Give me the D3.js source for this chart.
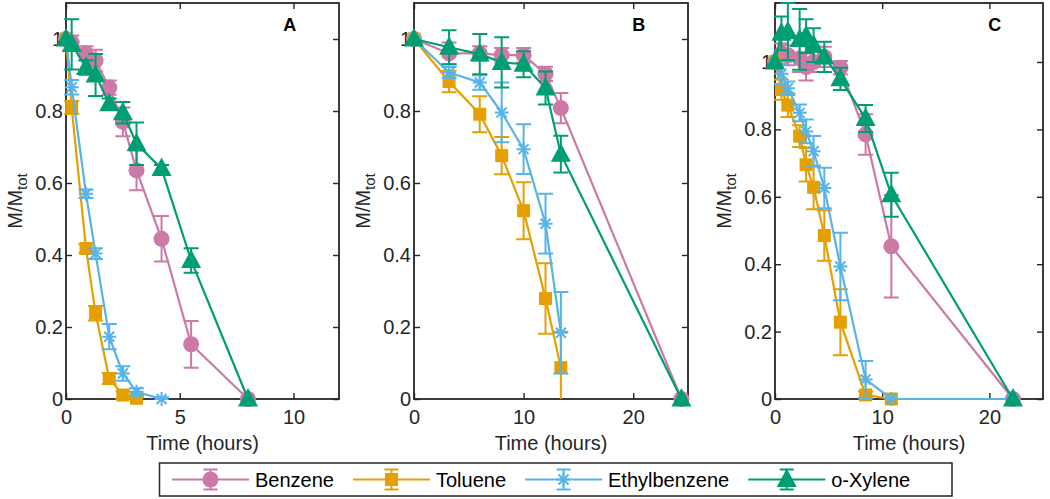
<!DOCTYPE html>
<html>
<head>
<meta charset="utf-8">
<script src="https://cdn.jsdelivr.net/npm/d3@7"></script>
<style>
  body { margin: 0; background: #fff; }
  svg { display: block; font-family: "Liberation Sans", Arial, sans-serif; }
</style>
</head>
<body>
<div id="chart"></div>
<script>
  // series
  const seriesNames = ["Benzene", "Toluene", "Ethylbenzene", "o-Xylene"];
  const seriesColors = ["#CC79A7", "#E69F00", "#56B4E9", "#009E73"];
  const seriesMarkers = ["circle", "square", "asterisk", "triangle"];

  const panelLabels = ["A", "B", "C"];
  const xTicksA = [0, 5, 10];
  const xTicksB = [0, 10, 20];
  const xTicksC = [0, 10, 20];
  const yTicks = [0, 0.2, 0.4, 0.6, 0.8, 1];

  // panel A (hours, M/Mtot)
  const timeA = [0, 0.25, 0.88, 1.3, 1.9, 2.5, 3.1, 4.2, 5.5, 8];
  const benzeneA = [1.0, 0.99, 0.96, 0.94, 0.865, 0.77, 0.635, 0.445, 0.152, 0];
  const benzeneErrA = [0, 0.02, 0.02, 0.03, 0.02, 0.04, 0.055, 0.063, 0.065, 0];
  const tolueneA = [1.0, 0.81, 0.418, 0.238, 0.057, 0.011, 0.002, null, null, null];
  const tolueneErrA = [0, 0.018, 0.012, 0.02, 0.015, 0.01, 0.005, 0, 0, 0];
  const ethylA = [1.0, 0.866, 0.57, 0.404, 0.173, 0.071, 0.02, 0, null, null];
  const ethylErrA = [0, 0.02, 0.012, 0.015, 0.035, 0.02, 0.01, 0.005, 0, 0];
  const xyleneA = [1.0, 0.985, 0.921, 0.9, 0.82, 0.795, 0.709, 0.64, 0.385, 0];
  const xyleneErrA = [0, 0.07, 0.02, 0.058, 0.015, 0.03, 0.059, 0.01, 0.034, 0];

  // panel B
  const timeB = [0, 3.2, 6, 8, 10, 12, 13.4, 24.4];
  const benzeneB = [1.0, 0.96, 0.96, 0.955, 0.955, 0.903, 0.808, 0];
  const benzeneErrB = [0, 0.03, 0.02, 0.02, 0.02, 0.02, 0.042, 0];
  const tolueneB = [1.0, 0.882, 0.791, 0.676, 0.523, 0.279, 0.087, null];
  const tolueneErrB = [0, 0.03, 0.05, 0.052, 0.079, 0.098, 0.1, 0];
  const ethylB = [1.0, 0.907, 0.879, 0.796, 0.694, 0.487, 0.184, null];
  const ethylErrB = [0, 0.015, 0.02, 0.083, 0.069, 0.083, 0.113, 0];
  const xyleneB = [1.0, 0.977, 0.958, 0.935, 0.93, 0.864, 0.68, 0];
  const xyleneErrB = [0, 0.047, 0.056, 0.07, 0.036, 0.046, 0.051, 0];

  // panel C
  const timeC = [0, 0.6, 1.2, 2.3, 2.9, 3.6, 4.6, 6.1, 8.45, 10.85, 22.2];
  const benzeneC = [1.0, 1.025, 1.02, 1.01, 0.985, 1.0, 1.015, 0.983, 0.785, 0.453, 0];
  const benzeneErrC = [0, 0.03, 0.03, 0.04, 0.04, 0.03, 0.03, 0.02, 0.06, 0.152, 0];
  const tolueneC = [1.0, 0.918, 0.872, 0.78, 0.695, 0.628, 0.485, 0.228, 0.012, 0, null];
  const tolueneErrC = [0, 0.03, 0.035, 0.032, 0.05, 0.065, 0.075, 0.098, 0.01, 0, 0];
  const ethylC = [1.0, 0.965, 0.922, 0.849, 0.794, 0.735, 0.626, 0.393, 0.058, 0, 0];
  const ethylErrC = [0, 0.03, 0.02, 0.025, 0.035, 0.045, 0.06, 0.1, 0.055, 0, 0];
  const xyleneC = [1.0, 1.085, 1.09, 1.067, 1.077, 1.05, 1.015, 0.95, 0.832, 0.606, 0];
  const xyleneErrC = [0, 0.05, 0.085, 0.09, 0.05, 0.05, 0.045, 0.033, 0.04, 0.065, 0];

  const W = 1050, H = 499;
  const axTop = 3, axBottom = 399;
  const ink = "#262626";

  const panels = [
    {label: panelLabels[0], time: timeA, xmax: 12, ymax: 1.1, left: 66, right: 339, xticks: xTicksA,
     values: [benzeneA, tolueneA, ethylA, xyleneA], errs: [benzeneErrA, tolueneErrA, ethylErrA, xyleneErrA]},
    {label: panelLabels[1], time: timeB, xmax: 25, ymax: 1.1, left: 414, right: 688, xticks: xTicksB,
     values: [benzeneB, tolueneB, ethylB, xyleneB], errs: [benzeneErrB, tolueneErrB, ethylErrB, xyleneErrB]},
    {label: panelLabels[2], time: timeC, xmax: 25, ymax: 1.175, left: 775, right: 1043, xticks: xTicksC,
     values: [benzeneC, tolueneC, ethylC, xyleneC], errs: [benzeneErrC, tolueneErrC, ethylErrC, xyleneErrC]}
  ];

  const svg = d3.select("#chart").append("svg")
    .attr("width", W)
    .attr("height", H);

  function markerPath(shape) {
    if (shape === "square") return "M-6.5,-6.5h13v13h-13z";
    if (shape === "triangle") return "M0,-11L10,7.5H-10Z";
    if (shape === "asterisk") return "M-7,0H7M0,-7V7M-5,-5L5,5M-5,5L5,-5";
    return null;
  }

  function drawMarker(g, shape, color, cx, cy) {
    if (shape === "circle") {
      g.append("circle")
        .attr("cx", cx).attr("cy", cy).attr("r", 8)
        .attr("fill", color);
    } else if (shape === "asterisk") {
      g.append("path")
        .attr("transform", "translate(" + cx + "," + cy + ")")
        .attr("d", markerPath(shape))
        .attr("fill", "none")
        .attr("stroke", color)
        .attr("stroke-width", 2);
    } else {
      g.append("path")
        .attr("transform", "translate(" + cx + "," + cy + ")")
        .attr("d", markerPath(shape))
        .attr("fill", color);
    }
  }

  function drawPanel(p) {
    const x = d3.scaleLinear().domain([0, p.xmax]).range([p.left, p.right]);
    const y = d3.scaleLinear().domain([0, p.ymax]).range([axBottom, axTop]);
    const g = svg.append("g");

    // axes, ticks pointing inward on all four sides
    g.append("g")
      .attr("transform", "translate(0," + axBottom + ")")
      .call(d3.axisBottom(x).tickValues(p.xticks).tickSize(-6).tickSizeOuter(0).tickPadding(11));
    g.append("g")
      .attr("transform", "translate(0," + axTop + ")")
      .call(d3.axisTop(x).tickValues(p.xticks).tickSize(-6).tickSizeOuter(0).tickFormat(""));
    g.append("g")
      .attr("transform", "translate(" + p.left + ",0)")
      .call(d3.axisLeft(y).tickValues(yTicks).tickSize(-6).tickSizeOuter(0).tickPadding(3)
        .tickFormat(d3.format("~g")));
    g.append("g")
      .attr("transform", "translate(" + p.right + ",0)")
      .call(d3.axisRight(y).tickValues(yTicks).tickSize(-6).tickSizeOuter(0).tickFormat(""));

    g.selectAll(".domain").remove();
    g.selectAll(".tick line").attr("stroke", ink).attr("stroke-width", 1.4);
    g.selectAll(".tick text")
      .attr("fill", ink)
      .style("font-size", "20px")
      .style("font-family", '"Liberation Sans", Arial, sans-serif');

    g.append("rect")
      .attr("x", p.left).attr("y", axTop)
      .attr("width", p.right - p.left).attr("height", axBottom - axTop)
      .attr("fill", "none")
      .attr("stroke", ink)
      .attr("stroke-width", 1.8);

    // labels
    g.append("text")
      .attr("x", (p.left + p.right) / 2)
      .attr("y", 450)
      .attr("text-anchor", "middle")
      .attr("fill", ink)
      .style("font-size", "20px")
      .text("Time (hours)");

    const yl = g.append("text")
      .attr("transform", "translate(" + (p.left - 44) + "," + ((axTop + axBottom) / 2) + ") rotate(-90)")
      .attr("text-anchor", "middle")
      .attr("fill", ink)
      .style("font-size", "20px");
    yl.append("tspan").text("M/M");
    yl.append("tspan").attr("dy", 5).style("font-size", "15px").text("tot");

    g.append("text")
      .attr("x", p.left + (p.right - p.left) * 0.82)
      .attr("y", 31)
      .attr("text-anchor", "middle")
      .attr("fill", "#000")
      .style("font-size", "18px")
      .style("font-weight", "bold")
      .text(p.label);

    // data: later series on top
    const line = d3.line()
      .x(function (d) { return x(d.t); })
      .y(function (d) { return y(d.v); });

    p.values.forEach(function (vals, si) {
      const color = seriesColors[si];
      const pts = [];
      vals.forEach(function (v, i) {
        if (v !== null) pts.push({t: p.time[i], v: v, e: p.errs[si][i]});
      });
      const sg = g.append("g");

      // error bars (clipped to the axes)
      pts.forEach(function (d) {
        if (!d.e) return;
        const lo = y(Math.max(0, d.v - d.e));
        const hi = y(Math.min(p.ymax, d.v + d.e));
        const cx = x(d.t);
        sg.append("path")
          .attr("d", "M" + cx + "," + lo + "V" + hi +
            (d.v - d.e >= 0 ? "M" + (cx - 7.5) + "," + lo + "H" + (cx + 7.5) : "") +
            "M" + (cx - 7.5) + "," + hi + "H" + (cx + 7.5))
          .attr("fill", "none")
          .attr("stroke", color)
          .attr("stroke-width", 2);
      });

      sg.append("path")
        .attr("d", line(pts))
        .attr("fill", "none")
        .attr("stroke", color)
        .attr("stroke-width", 2.2);

      pts.forEach(function (d) {
        drawMarker(sg, seriesMarkers[si], color, x(d.t), y(d.v));
      });
    });
  }

  panels.forEach(drawPanel);

  // legend
  const legend = svg.append("g");
  const legLeft = 159.5, legRight = 952, legTop = 463, legBottom = 496;
  const legY = (legTop + legBottom) / 2;
  legend.append("rect")
    .attr("x", legLeft).attr("y", legTop)
    .attr("width", legRight - legLeft).attr("height", legBottom - legTop)
    .attr("fill", "#fff")
    .attr("stroke", ink)
    .attr("stroke-width", 1.5);

  let cursor = legLeft + 12.5;
  seriesNames.forEach(function (name, si) {
    const color = seriesColors[si];
    const mx = cursor + 38.5;
    legend.append("line")
      .attr("x1", cursor).attr("x2", cursor + 77)
      .attr("y1", legY).attr("y2", legY)
      .attr("stroke", color).attr("stroke-width", 2);
    legend.append("path")
      .attr("d", "M" + mx + "," + (legY - 10) + "V" + (legY + 10) +
        "M" + (mx - 7) + "," + (legY - 10) + "H" + (mx + 7) +
        "M" + (mx - 7) + "," + (legY + 10) + "H" + (mx + 7))
      .attr("fill", "none")
      .attr("stroke", color).attr("stroke-width", 2);
    drawMarker(legend, seriesMarkers[si], color, mx, legY);
    const t = legend.append("text")
      .attr("x", cursor + 83)
      .attr("y", legY + 7)
      .attr("fill", "#000")
      .style("font-size", "20px")
      .text(name);
    cursor = cursor + 83 + t.node().getComputedTextLength() + 19;
  });
</script>
</body>
</html>
